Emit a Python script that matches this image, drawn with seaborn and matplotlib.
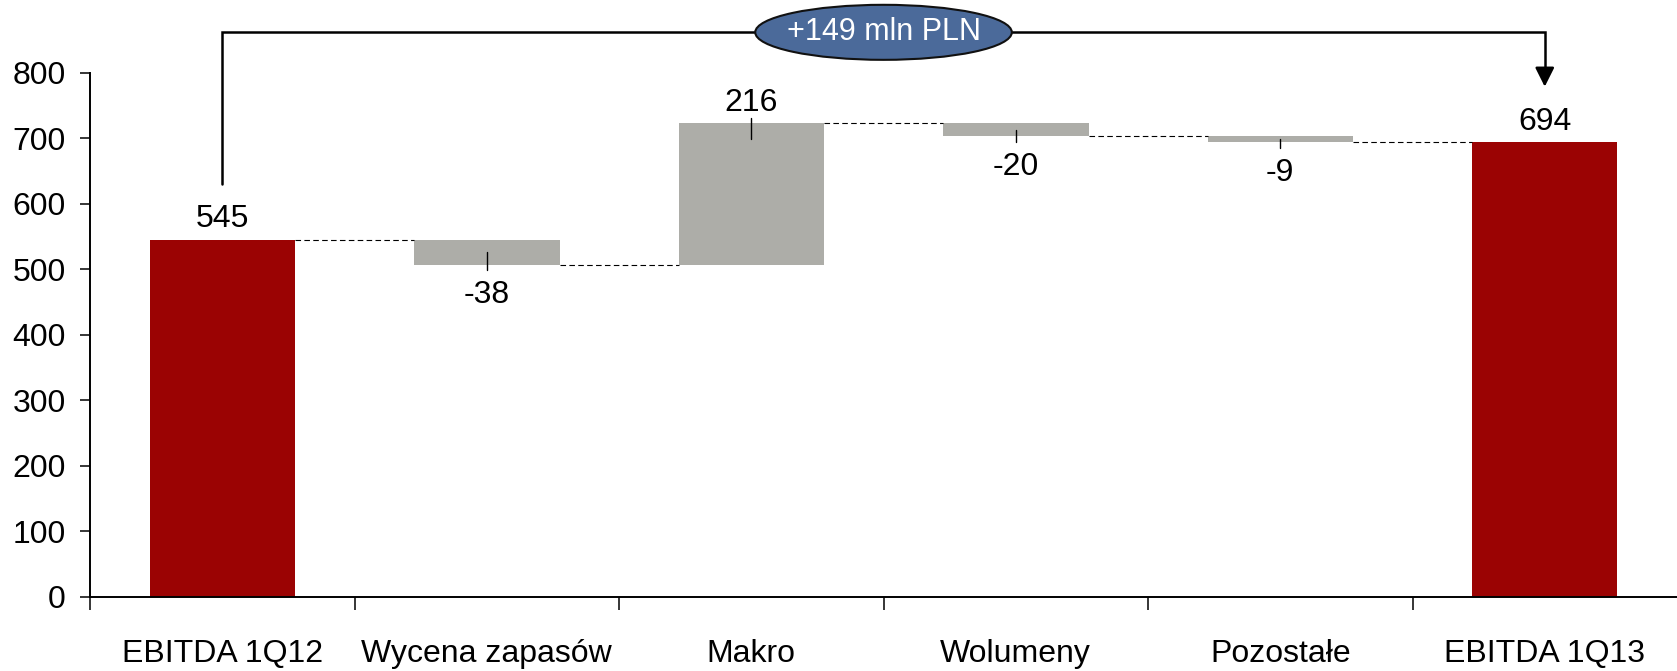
import matplotlib
matplotlib.use("Agg")
import matplotlib.pyplot as plt
from matplotlib.patches import Ellipse
import seaborn as sns
import pandas as pd
import numpy as np

# EBITDA bridge 1Q12 -> 1Q13 (mln PLN)
categories = ["EBITDA 1Q12", "Wycena zapasów", "Makro", "Wolumeny", "Pozostałe", "EBITDA 1Q13"]
changes = [545, -38, 216, -20, -9, 694]
is_total = [True, False, False, False, False, True]
bridge_label = "+149 mln PLN"
y_ticks = [0, 100, 200, 300, 400, 500, 600, 700, 800]

RED = "#9B0303"
GREY = "#ADADA8"
BLUE = "#4B6A9A"
FONT = ["Liberation Sans Narrow", "Liberation Sans", "DejaVu Sans"]

sns.set_theme(style="white")
plt.rcParams["font.family"] = FONT

# running totals -> bar bottoms / heights
bottoms, heights, levels = [], [], []
running = 0
for v, tot in zip(changes, is_total):
    if tot:
        bottoms.append(0)
        heights.append(v)
        running = v
    else:
        start = running
        running = start + v
        bottoms.append(min(start, running))
        heights.append(abs(v))
    levels.append(running)

df = pd.DataFrame({"category": categories, "height": heights, "bottom": bottoms})

fig = plt.figure(figsize=(16.77, 6.71), dpi=100)
ax = fig.add_axes([0.0537, 0.1103, 0.9463, 0.7810])

BAR_W = 0.55
sns.barplot(data=df, x="category", y="height", order=categories, bottom=df["bottom"].values,
            color=GREY, width=BAR_W, linewidth=0, saturation=1, ax=ax)
for patch, tot in zip(ax.patches, is_total):
    patch.set_facecolor(RED if tot else GREY)
    patch.set_edgecolor("none")

ax.set_xlim(-0.5, len(categories) - 0.5)
ax.set_ylim(0, 800)
ax.set_xlabel("")
ax.set_ylabel("")

# axes styling
for side in ["top", "right"]:
    ax.spines[side].set_visible(False)
for side in ["left", "bottom"]:
    ax.spines[side].set_color("black")
    ax.spines[side].set_linewidth(1.4)

ax.set_yticks(y_ticks)
ax.set_yticklabels([str(t) for t in y_ticks])
ax.tick_params(axis="y", which="major", direction="out", length=7.5, width=1.1,
               color="black", labelsize=23, pad=10, left=True)
ax.set_xticks(range(len(categories)))
ax.set_xticklabels(categories)
ax.tick_params(axis="x", which="major", length=0, labelsize=23, pad=30)
ax.set_xticks(np.arange(-0.5, len(categories) - 0.5, 1.0), minor=True)
ax.tick_params(axis="x", which="minor", direction="out", length=9, width=1.1,
               color="black", bottom=True)
for lbl in ax.get_xticklabels() + ax.get_yticklabels():
    lbl.set_family(FONT)
    lbl.set_color("black")

# dashed connectors between consecutive bars
for i in range(len(categories) - 1):
    ax.plot([i + BAR_W / 2, i + 1 - BAR_W / 2], [levels[i], levels[i]],
            color="black", lw=0.8, ls=(0, (5, 3)), zorder=3)

# value labels with short leader ticks
for i, (v, tot) in enumerate(zip(changes, is_total)):
    top = bottoms[i] + heights[i]
    bot = bottoms[i]
    if tot or v > 0:
        ax.annotate(f"{v}", xy=(i, top), xytext=(0, 15), textcoords="offset points",
                    ha="center", va="center", fontsize=23, family=FONT, color="black")
        if not tot:
            inner = min(abs(v) / 2, 24)
            ax.plot([i, i], [top + 8, top - inner], color="black", lw=1.0, zorder=4)
    else:
        ax.annotate(f"{v}", xy=(i, bot), xytext=(0, -22), textcoords="offset points",
                    ha="center", va="center", fontsize=23, family=FONT, color="black")
        inner = min(abs(v) / 2, 24)
        ax.plot([i, i], [bot - 8, bot + inner], color="black", lw=1.0, zorder=4)

# bracket showing the overall change
first, last = 0, len(categories) - 1
bracket_y = 862
ax.plot([first, first, last, last], [changes[first] + 85, bracket_y, bracket_y, changes[last] + 110],
        color="black", lw=1.8, clip_on=False, zorder=5, solid_joinstyle="miter")
ax.annotate("", xy=(last, changes[last] + 85), xytext=(last, changes[last] + 112),
            arrowprops=dict(arrowstyle="-|>,head_length=0.58,head_width=0.29",
                            mutation_scale=20, color="black", lw=1.8,
                            shrinkA=0, shrinkB=0),
            annotation_clip=False, zorder=5)
mid = (first + last) / 2
ax.add_patch(Ellipse((mid, bracket_y), width=0.97, height=84, facecolor=BLUE,
                     edgecolor="#111111", lw=1.5, clip_on=False, zorder=6))
ax.text(mid, bracket_y, bridge_label, ha="center", va="center", fontsize=22,
        family=FONT, color="white", zorder=7, clip_on=False)

fig.savefig("out.png", dpi=100)
